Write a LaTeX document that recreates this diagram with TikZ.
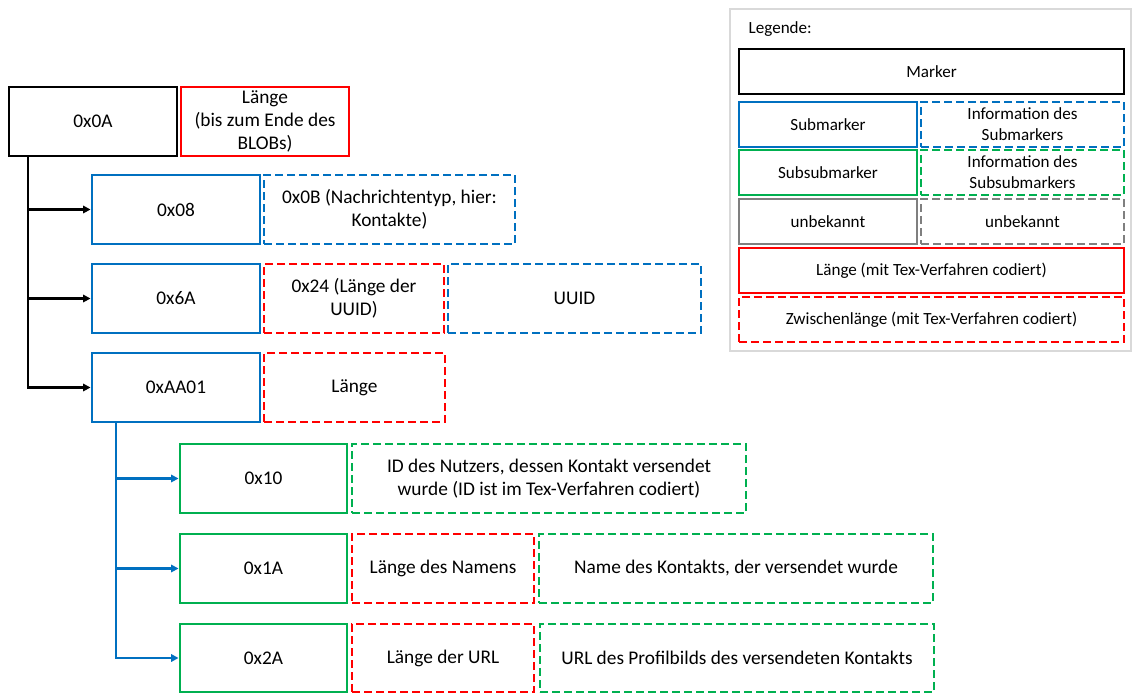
\documentclass[tikz,border=0pt]{standalone}
\usepackage{fontspec}
\setmainfont{Carlito}
\usetikzlibrary{arrows.meta}
\definecolor{mblue}{HTML}{0070C0}
\definecolor{mgreen}{HTML}{00B050}
\definecolor{mred}{HTML}{FF0000}
\definecolor{mgray}{HTML}{7F7F7F}
\definecolor{lgray}{HTML}{D9D9D9}
% field box: style, name, x1, y1, x2, y2 (pixel grid, y downwards), text
\newcommand\fld[7]{\node[#1, minimum width={(#5-#3)*0.75pt}, minimum height={(#6-#4)*0.75pt}] (#2) at ({(#3+#5)/2},{(#4+#6)/2}) {#7};}
\tikzset{
  field/.style={draw, line width=2.2pt, inner sep=0pt, align=center, font=\fontsize{14.5}{17}\selectfont},
  dsh/.style={field, dash pattern=on 6pt off 3pt},
  marker/.style={field, draw=black},
  len/.style={field, draw=mred},
  zlen/.style={dsh, draw=mred},
  sub/.style={field, draw=mblue},
  subinfo/.style={dsh, draw=mblue},
  ssub/.style={field, draw=mgreen},
  ssubinfo/.style={dsh, draw=mgreen},
  unk/.style={field, draw=mgray},
  unkinfo/.style={dsh, draw=mgray},
  lg/.style={font=\fontsize{12.8}{15.8}\selectfont},
  link/.style={line width=2pt, -{Triangle[length=5.5pt,width=5.5pt]}},
}
\begin{document}
\begin{tikzpicture}[x=0.75pt, y=-0.75pt]
\useasboundingbox (0,0) rectangle (1132,693);

% marker level
\fld{marker}{m0A}{9}{87}{177}{156}{0x0A}
\fld{len}{l0A}{181}{87}{349}{156}{Länge\\(bis zum Ende des\\BLOBs)}

% submarker level
\fld{sub}{m08}{92}{175}{260}{244}{0x08}
\fld{subinfo}{i08}{264}{175}{515}{244}{0x0B (Nachrichtentyp, hier:\\Kontakte)}

\fld{sub}{m6A}{92}{264}{260}{333}{0x6A}
\fld{zlen}{z6A}{264}{264}{444}{333}{0x24 (Länge der\\UUID)}
\fld{subinfo}{i6A}{448}{264}{701}{333}{UUID}

\fld{sub}{mAA}{92}{353}{260}{422}{0xAA01}
\fld{zlen}{zAA}{264}{353}{445}{422}{Länge}

% subsubmarker level
\fld{ssub}{m10}{180}{444}{347}{513}{0x10}
\fld{ssubinfo}{i10}{352}{444}{746}{513}{ID des Nutzers, dessen Kontakt versendet\\wurde (ID ist im Tex-Verfahren codiert)}

\fld{ssub}{m1A}{180}{534}{347}{603}{0x1A}
\fld{zlen}{z1A}{352}{534}{534}{603}{Länge des Namens}
\fld{ssubinfo}{i1A}{539}{534}{933}{603}{Name des Kontakts, der versendet wurde}

\fld{ssub}{m2A}{180}{624}{347}{692}{0x2A}
\fld{zlen}{z2A}{352}{624}{534}{692}{Länge der URL}
\fld{ssubinfo}{i2A}{540}{624}{934}{692}{URL des Profilbilds des versendeten Kontakts}

% tree connectors
\coordinate (trA) at (28,156);
\coordinate (trB) at (116,422);
\draw[link, draw=black] (trA) |- (m08.west);
\draw[link, draw=black] (trA) |- (m6A.west);
\draw[link, draw=black] (trA) |- (mAA.west);
\draw[link, draw=mblue] (trB) |- (m10.west);
\draw[link, draw=mblue] (trB) |- (m1A.west);
\draw[link, draw=mblue] (trB) |- (m2A.west);

% legend
\fld{field, draw=lgray, line width=1.5pt}{legend}{730}{9}{1131}{351}{}
\node[lg, anchor=west] (lgtitle) at (744,29) {Legende:};
\fld{marker, lg}{lgm}{739}{49}{1124}{94}{Marker}
\fld{sub, lg}{lgs}{739}{102}{917}{147}{Submarker}
\fld{subinfo, lg}{lgsi}{921}{102}{1124}{147}{Information des\\Submarkers}
\fld{ssub, lg}{lgss}{739}{150}{917}{195}{Subsubmarker}
\fld{ssubinfo, lg}{lgssi}{921}{150}{1124}{195}{Information des\\Subsubmarkers}
\fld{unk, lg}{lgu}{739}{199}{917}{244}{unbekannt}
\fld{unkinfo, lg}{lgui}{921}{199}{1124}{244}{unbekannt}
\fld{len, lg}{lgl}{739}{248}{1124}{293}{Länge (mit Tex-Verfahren codiert)}
\fld{zlen, lg}{lgz}{739}{297}{1124}{342}{Zwischenlänge (mit Tex-Verfahren codiert)}
\end{tikzpicture}
\end{document}
